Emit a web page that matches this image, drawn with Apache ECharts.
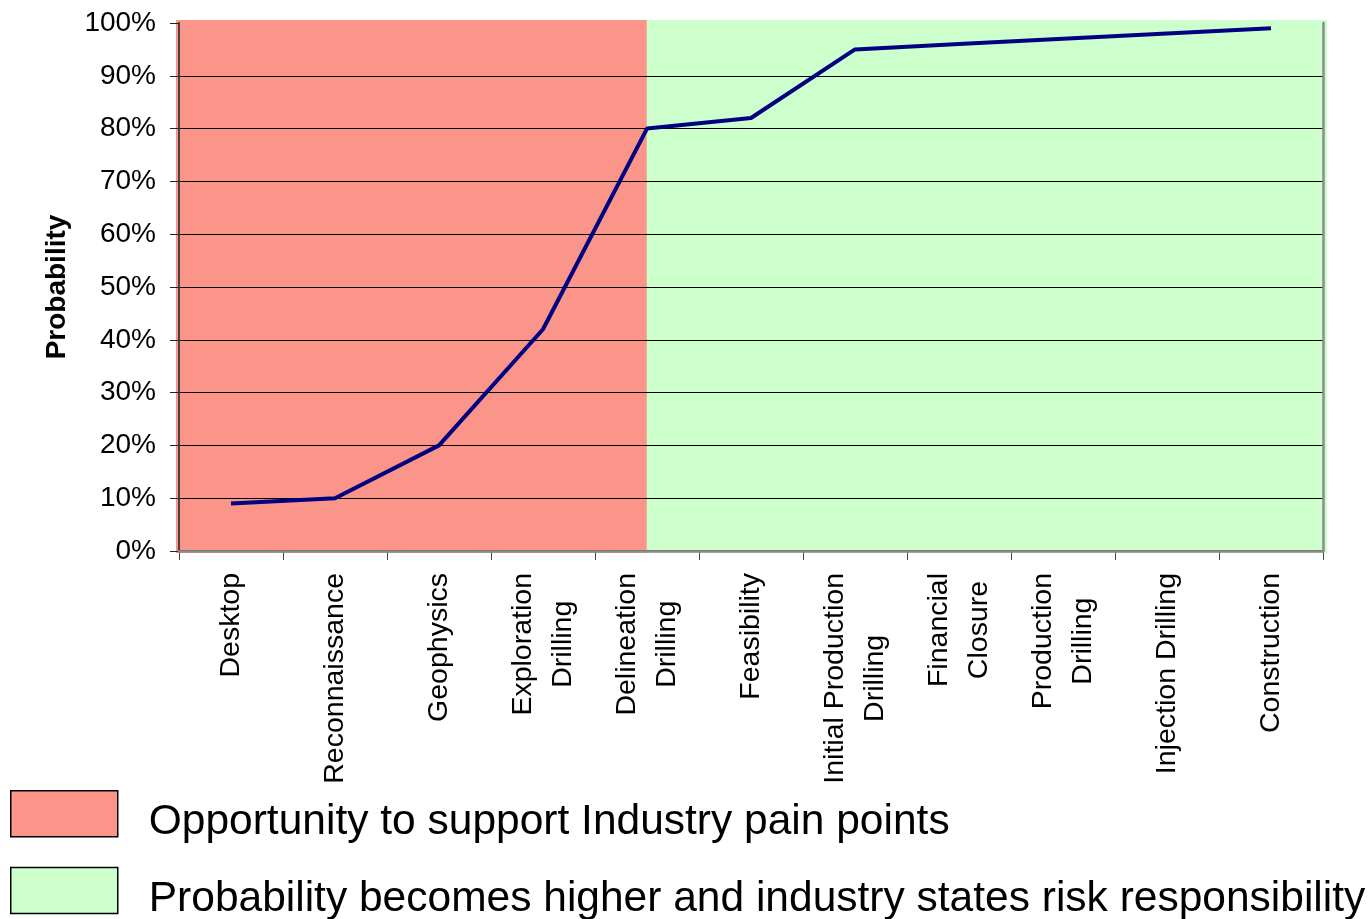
<!DOCTYPE html>
<html>
<head>
<meta charset="utf-8">
<script src="https://cdn.jsdelivr.net/npm/echarts@6/dist/echarts.min.js"></script>
<style>
	html, body { margin: 0; padding: 0; background: #fff; }
	#chart { width: 1372px; height: 919px; }
</style>
</head>
<body>
<div id="chart"></div>
<script>
// stages along the x axis
var stages = [
	"Desktop",
	"Reconnaissance",
	"Geophysics",
	"Exploration\nDrilling",
	"Delineation\nDrilling",
	"Feasibility",
	"Initial Production\nDrilling",
	"Financial\nClosure",
	"Production\nDrilling",
	"Injection Drilling",
	"Construction"
];
// probability per stage (%)
var probability = [9, 10, 20, 42, 80, 82, 95, 96, 97, 98, 99];
var yTicks = [0, 10, 20, 30, 40, 50, 60, 70, 80, 90, 100];

// shaded zones, in category units [from, to]
var zoneNames = [
	"Opportunity to support Industry pain points",
	"Probability becomes higher and industry states risk responsibility"
];
var zoneRanges = [[0, 4.5], [4.5, 11]];
var zoneColors = ["#fb9489", "#ccffcc"];

var font = "'Liberation Sans', Arial, sans-serif";

function zoneSeries(i) {
	return {
		name: zoneNames[i],
		type: "custom",
		xAxisIndex: 1,
		yAxisIndex: 1,
		z: 1,
		silent: true,
		itemStyle: { color: zoneColors[i] },
		data: [zoneRanges[i]],
		renderItem: function (params, api) {
			var p0 = api.coord([api.value(0), 1]);
			var p1 = api.coord([api.value(1), 0]);
			return {
				type: "rect",
				shape: { x: p0[0], y: p0[1], width: p1[0] - p0[0], height: p1[1] - p0[1] },
				style: api.style()
			};
		}
	};
}

var myChart = echarts.init(document.getElementById("chart"));
myChart.setOption({
	animation: false,
	textStyle: { fontFamily: font },
	grid: [
		{ left: 179, right: 49, top: 23, bottom: 368, z: 5 },
		{ left: 176, right: 45, top: 20, bottom: 366 }
	],
	legend: {
		orient: "vertical",
		left: 10,
		top: 790,
		height: 200,
		padding: 0,
		itemWidth: 107,
		itemHeight: 46,
		itemGap: 23,
		selectedMode: false,
		formatter: function (name) { return "{t|" + name + "}"; },
		textStyle: {
			color: "#000",
			fontFamily: font,
			rich: {
				t: { fontSize: 42.5, color: "#000", fontFamily: font, padding: [17, 0, 0, 26] }
			}
		},
		data: zoneNames.map(function (n, i) {
			return {
				name: n,
				icon: "rect",
				itemStyle: { color: zoneColors[i], borderColor: "#000", borderWidth: 1.5 }
			};
		})
	},
	xAxis: [
		{
			type: "category",
			gridIndex: 0,
			data: stages,
			z: 5,
			axisLine: { lineStyle: { color: "#444", width: 2 } },
			axisTick: { show: true, length: 9, lineStyle: { color: "#444", width: 1 } },
			axisLabel: {
				rotate: 90,
				margin: 22,
				color: "#000",
				interval: 0,
				formatter: function (v) {
					return v.split("\n").map(function (s) { return "{c|" + s + "}"; }).join("\n");
				},
				rich: {
					c: { align: "center", fontSize: 28.5, lineHeight: 40, fontFamily: font, color: "#000" }
				}
			}
		},
		{ type: "value", gridIndex: 1, min: 0, max: 11, show: false },
		{
			type: "category",
			gridIndex: 0,
			position: "top",
			data: stages,
			z: 6,
			axisLine: { lineStyle: { color: "#8c8c8c", width: 2.5 } },
			axisTick: { show: false },
			axisLabel: { show: false }
		}
	],
	yAxis: [
		{
			type: "value",
			gridIndex: 0,
			min: 0,
			max: 100,
			interval: 10,
			z: 5,
			name: "Probability",
			nameLocation: "middle",
			nameRotate: 90,
			nameGap: 108,
			nameTextStyle: { fontSize: 28, fontWeight: "bold", color: "#000", fontFamily: font },
			axisLine: { show: true, lineStyle: { color: "#444", width: 2 } },
			axisTick: { show: true, length: 9, lineStyle: { color: "#222", width: 1 } },
			axisLabel: {
				margin: 23,
				fontSize: 28,
				color: "#000",
				formatter: function (v) { return yTicks.indexOf(v) >= 0 ? v + "%" : ""; }
			},
			splitLine: { show: true, showMinLine: false, showMaxLine: false, lineStyle: { color: "#000", width: 1 } }
		},
		{ type: "value", gridIndex: 1, min: 0, max: 1, show: false },
		{
			type: "value",
			gridIndex: 0,
			position: "right",
			min: 0,
			max: 100,
			interval: 10,
			z: 6,
			axisLine: { show: true, lineStyle: { color: "#8c8c8c", width: 2.5 } },
			axisTick: { show: false },
			axisLabel: { show: false },
			splitLine: { show: false }
		}
	],
	series: [
		zoneSeries(0),
		zoneSeries(1),
		{
			name: "Probability",
			type: "line",
			xAxisIndex: 0,
			yAxisIndex: 0,
			z: 10,
			symbol: "none",
			lineStyle: { color: "#000080", width: 4 },
			data: probability
		}
	]
});
</script>
</body>
</html>
